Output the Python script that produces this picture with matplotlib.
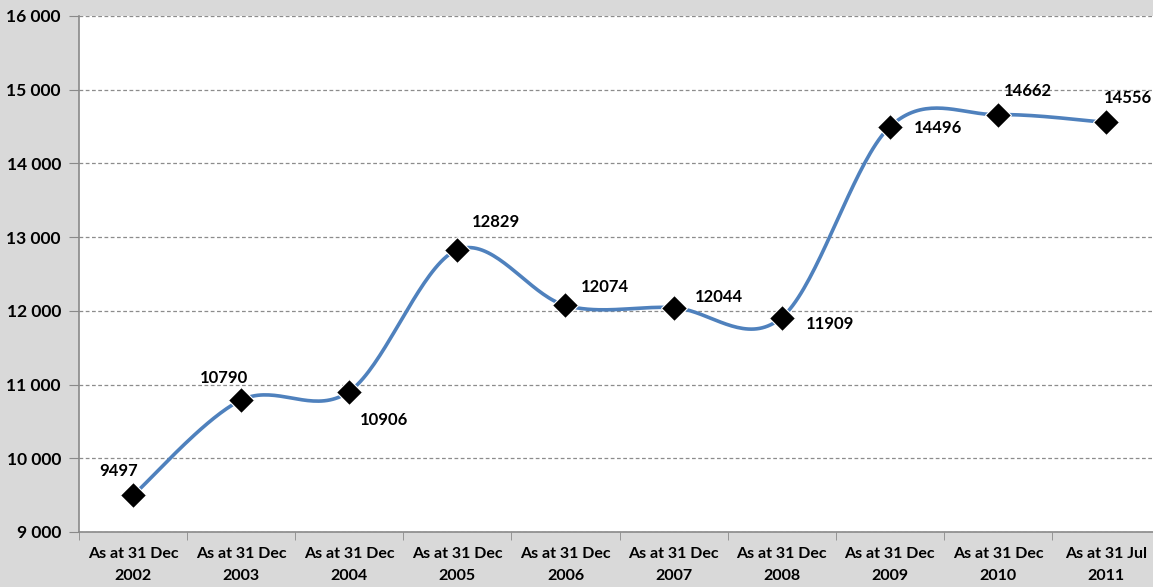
import numpy as np
import matplotlib
matplotlib.use("Agg")
import matplotlib.pyplot as plt
from matplotlib.ticker import FuncFormatter, FixedLocator

categories = ["As at 31 Dec\n2002", "As at 31 Dec\n2003", "As at 31 Dec\n2004",
              "As at 31 Dec\n2005", "As at 31 Dec\n2006", "As at 31 Dec\n2007",
              "As at 31 Dec\n2008", "As at 31 Dec\n2009", "As at 31 Dec\n2010",
              "As at 31 Jul\n2011"]
values = [9497, 10790, 10906, 12829, 12074, 12044, 11909, 14496, 14662, 14556]
y_ticks = [9000, 10000, 11000, 12000, 13000, 14000, 15000, 16000]

# label offsets in pixels (styling)
offsets = [(-14, 24), (-17, 22), (35, -28), (39, 28), (39, 18), (45, 11),
           (48, -6), (48, -1), (30, 24), (22, 24)]

plt.rcParams['font.family'] = ['Lato', 'DejaVu Sans']
plt.rcParams['font.weight'] = 'bold'

fig = plt.figure(figsize=(11.53, 5.87), dpi=100)
fig.patch.set_facecolor('#D9D9D9')
ax = fig.add_axes([79/1153, 1-532/587, 1081/1153, (532-16)/587])
ax.set_facecolor('white')

x = np.arange(len(values))
y = np.array(values, dtype=float)

# Catmull-Rom style smoothing (like Excel smoothed line)
def smooth(xp, yp, n=40):
    P = np.column_stack([xp, yp])
    pts = []
    N = len(P)
    for i in range(N - 1):
        p0 = P[i - 1] if i > 0 else P[i]
        p1 = P[i]
        p2 = P[i + 1]
        p3 = P[i + 2] if i + 2 < N else P[i + 1]
        c1 = p1 + (p2 - p0) / 6.0
        c2 = p2 - (p3 - p1) / 6.0
        t = np.linspace(0, 1, n)[:, None]
        seg = ((1 - t) ** 3) * p1 + 3 * ((1 - t) ** 2) * t * c1 + 3 * (1 - t) * t ** 2 * c2 + t ** 3 * p2
        pts.append(seg if i == 0 else seg[1:])
    pts = np.vstack(pts)
    return pts[:, 0], pts[:, 1]

sx, sy = smooth(x, y)
ax.plot(sx, sy, color='#4F81BD', lw=2.6, zorder=3, solid_capstyle='round')
ax.plot(x, y, linestyle='none', marker='D', color='black', markersize=13.5,
        markeredgecolor='white', markeredgewidth=0.8, zorder=4)

for xi, yi, (dx, dy) in zip(x, y, offsets):
    ax.annotate(f"{int(yi)}", (xi, yi), xytext=(dx, dy), textcoords='offset pixels',
                ha='center', va='center', fontsize=12, fontweight='bold', color='black')

ax.set_xlim(-0.5, len(values) - 0.5)
ax.set_ylim(9000, 16000)
ax.yaxis.set_major_locator(FixedLocator(y_ticks))
ax.yaxis.set_major_formatter(FuncFormatter(lambda v, p: f"{int(v):,}".replace(",", " ")))
ax.set_xticks(x)
ax.set_xticklabels(categories, fontsize=11.5, fontweight='bold', linespacing=1.7)
ax.set_xticks(np.arange(-0.5, len(values), 1.0), minor=True)
ax.tick_params(axis='x', which='major', length=0, pad=11)
ax.tick_params(axis='x', which='minor', length=6, color='#898989', direction='out')
ax.tick_params(axis='y', length=7, color='#898989', pad=6, labelsize=12.5)
for lbl in ax.get_yticklabels():
    lbl.set_fontweight('bold')

ax.grid(axis='y', color='#8C8C8C', linestyle=(0, (3, 2)), linewidth=0.9)
ax.set_axisbelow(True)
for s in ['top', 'right']:
    ax.spines[s].set_visible(False)
for s in ['left', 'bottom']:
    ax.spines[s].set_color('#898989')
    ax.spines[s].set_linewidth(1.2)

fig.savefig('out.png', dpi=100, facecolor=fig.get_facecolor())
